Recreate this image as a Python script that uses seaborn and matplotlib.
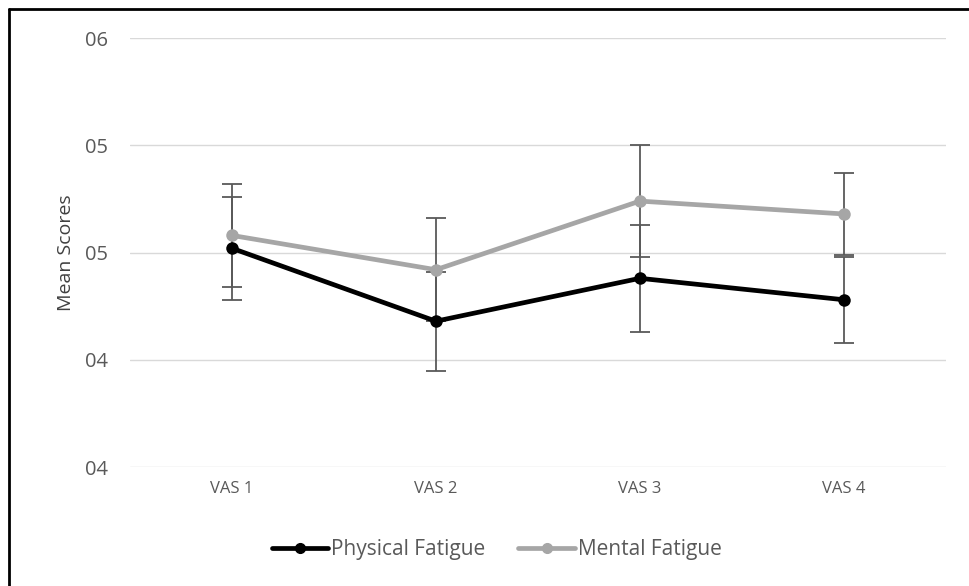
import pandas as pd
import seaborn as sns
import matplotlib.pyplot as plt
from matplotlib.lines import Line2D

# -----------------------------
# Datos
# -----------------------------
categorias = ["VAS 1", "VAS 2", "VAS 3", "VAS 4"]
fisica_media = [4.52, 4.18, 4.38, 4.28]
fisica_error = [0.24, 0.23, 0.25, 0.20]
mental_media = [4.58, 4.42, 4.74, 4.68]
mental_error = [0.24, 0.24, 0.26, 0.19]
yticks = [3.5, 4.0, 4.5, 5.0, 5.5]
ytick_labels = ["04", "04", "05", "05", "06"]

df = pd.DataFrame({
    "VAS": categorias * 2,
    "Score": fisica_media + mental_media,
    "Err": fisica_error + mental_error,
    "Serie": ["Physical Fatigue"] * 4 + ["Mental Fatigue"] * 4,
})

sns.set_theme(style="white")
plt.rcParams["font.family"] = ["Open Sans", "DejaVu Sans"]

colores = {"Physical Fatigue": "black", "Mental Fatigue": "#a6a6a6"}
texto = "#595959"

fig = plt.figure(figsize=(9.7, 5.86), dpi=100)
ax = fig.add_axes([0.134, 0.203, 0.841, 0.732])

# Barras de error por debajo de las líneas
for serie, sub in df.groupby("Serie", sort=False):
    ax.errorbar(
        sub["VAS"], sub["Score"], yerr=sub["Err"],
        fmt="none", ecolor="#595959", elinewidth=1.3,
        capsize=7, capthick=1.3, zorder=2
    )

sns.lineplot(
    data=df, x="VAS", y="Score", hue="Serie",
    palette=colores, marker="o", markersize=9,
    markeredgewidth=0, linewidth=3.4, ax=ax, zorder=3, legend=False
)

ax.set_xlim(-0.5, 3.5)
ax.set_ylim(3.5, 5.5)
ax.set_yticks(yticks)
ax.set_yticklabels(ytick_labels)
ax.yaxis.grid(True, color="#d9d9d9", linewidth=1)
ax.set_axisbelow(True)
for s in ax.spines.values():
    s.set_visible(False)
ax.tick_params(axis="both", length=0, colors=texto)
ax.tick_params(axis="y", pad=16, labelsize=14.5)
ax.tick_params(axis="x", pad=10, labelsize=12)
ax.set_xlabel("")
ax.set_ylabel("Mean Scores", color="#404040", fontsize=14, labelpad=7)

handles = [
    Line2D([], [], color=colores[s], marker="o", markersize=7, linewidth=3.4)
    for s in ["Physical Fatigue", "Mental Fatigue"]
]
fig.legend(
    handles, ["Physical Fatigue", "Mental Fatigue"],
    loc="center", bbox_to_anchor=(0.512, 0.062), ncol=2, frameon=False,
    handlelength=2.7, handletextpad=0.15, columnspacing=1.6,
    labelcolor=texto, fontsize=15
)

# Borde superior e izquierdo
fig.add_artist(Line2D([9 / 970, 9 / 970], [0, 1 - 9 / 586], color="black", linewidth=2, transform=fig.transFigure))
fig.add_artist(Line2D([9 / 970, 1], [1 - 9 / 586, 1 - 9 / 586], color="black", linewidth=2, transform=fig.transFigure))

fig.savefig("out.png", dpi=100, facecolor="white")
